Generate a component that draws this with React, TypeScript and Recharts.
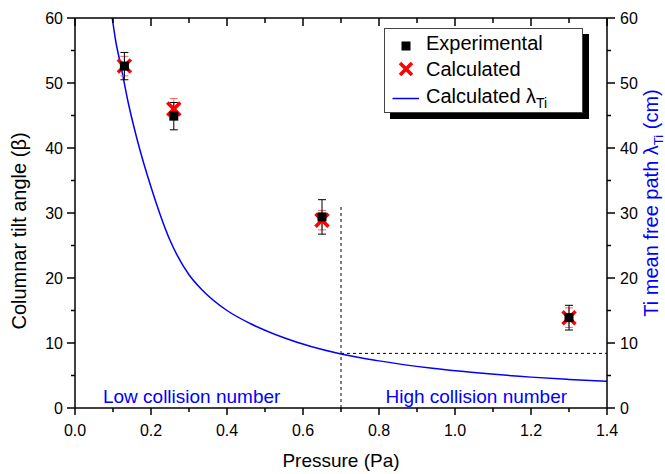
import React from 'react';
import {
  ComposedChart,
  XAxis,
  YAxis,
  Line,
  Scatter,
  ErrorBar,
  ReferenceLine,
  ReferenceDot,
  Legend,
} from 'recharts';

// ---------- data ----------
const pressure = [0.13, 0.26, 0.65, 1.3];
const experimental = [52.6, 44.9, 29.4, 13.9];
const experimentalErr = [2.1, 2.1, 2.65, 1.9];
const calculated = [52.6, 46.0, 28.9, 13.9];
const calculatedErr = [1.5, 1.6, 1.5, 1.5];

const curvePressure = [0.098, 0.107, 0.121, 0.14, 0.164, 0.2, 0.25, 0.3, 0.334, 0.4, 0.461, 0.55, 0.7, 0.8, 0.935, 1.05, 1.2, 1.3, 1.4];
const curveLambda = [60, 56.5, 52.6, 47.0, 41.2, 34.0, 25.8, 20.5, 18.2, 15.0, 13.0, 10.8, 8.3, 7.25, 6.15, 5.45, 4.75, 4.4, 4.1];

const xTicks = [0, 0.1, 0.2, 0.3, 0.4, 0.5, 0.6, 0.7, 0.8, 0.9, 1.0, 1.1, 1.2, 1.3, 1.4];
const yTicks = [0, 5, 10, 15, 20, 25, 30, 35, 40, 45, 50, 55, 60];

const boundaryPressure = 0.7;
const boundaryTop = 31.2;
const boundaryLambda = 8.4;

const lowLabel = 'Low collision number';
const highLabel = 'High collision number';
const lowLabelPos = { p: 0.307, y: 1.85 };
const highLabelPos = { p: 1.056, y: 1.85 };

// ---------- derived tables ----------
const expData = pressure.map((p, i) => ({ p, beta: experimental[i], err: experimentalErr[i] }));
const calcData = pressure.map((p, i) => ({ p, beta: calculated[i], err: calculatedErr[i] }));
const curveData = curvePressure.map((p, i) => ({ p, lam: curveLambda[i] }));

const FONT = '"Liberation Sans", Arial, Helvetica, sans-serif';
const BLUE = '#0000ff';
const RED = '#ff0000';

const isMajorX = (v: number) => Math.round(v * 10) % 2 === 0;
const isMajorY = (v: number) => Math.round(v) % 10 === 0;

const BottomTick = (props: any) => {
  const { x, y, payload } = props;
  const v = Number(payload.value);
  const major = isMajorX(v);
  return (
    <g>
      <line x1={x} y1={y} x2={x} y2={y + (major ? 7 : 4)} stroke="#000" strokeWidth={1.5} />
      {major && (
        <text x={x} y={y + 28} textAnchor="middle" fontSize={16} fontFamily={FONT} fill="#000">
          {v.toFixed(1)}
        </text>
      )}
    </g>
  );
};

const TopTick = (props: any) => {
  const { x, y, payload } = props;
  const v = Number(payload.value);
  const major = isMajorX(v);
  return <line x1={x} y1={y} x2={x} y2={y + (major ? 8 : 5)} stroke="#000" strokeWidth={1.5} />;
};

const LeftTick = (props: any) => {
  const { x, y, payload } = props;
  const v = Number(payload.value);
  const major = isMajorY(v);
  return (
    <g>
      <line x1={x} y1={y} x2={x - (major ? 8 : 4)} y2={y} stroke="#000" strokeWidth={1.5} />
      {major && (
        <text x={x - 12} y={y} dy="0.36em" textAnchor="end" fontSize={16} fontFamily={FONT} fill="#000">
          {v}
        </text>
      )}
    </g>
  );
};

const RightTick = (props: any) => {
  const { x, y, payload } = props;
  const v = Number(payload.value);
  const major = isMajorY(v);
  return (
    <g>
      <line x1={x} y1={y} x2={x + (major ? 8 : 4)} y2={y} stroke="#000" strokeWidth={1.5} />
      {major && (
        <text x={x + 13} y={y} dy="0.36em" textAnchor="start" fontSize={16} fontFamily={FONT} fill="#000">
          {v}
        </text>
      )}
    </g>
  );
};

const SquareShape = (props: any) => {
  const { cx, cy } = props;
  return <rect x={cx - 4.5} y={cy - 4.5} width={9} height={9} fill="#000" />;
};

const CrossShape = (props: any) => {
  const { cx, cy } = props;
  const s = 6.5;
  return (
    <g stroke={RED} strokeWidth={3.5} strokeLinecap="butt">
      <line x1={cx - s} y1={cy - s} x2={cx + s} y2={cy + s} />
      <line x1={cx - s} y1={cy + s} x2={cx + s} y2={cy - s} />
    </g>
  );
};

const LeftTitle = (props: any) => {
  const vb = props.viewBox || { x: 0, y: 18, width: 75, height: 390 };
  const cx = vb.x + 25.5;
  const cy = vb.y + vb.height / 2 + 18;
  return (
    <text
      x={cx}
      y={cy}
      transform={`rotate(-90, ${cx}, ${cy})`}
      textAnchor="middle"
      fontSize={20}
      fontFamily={FONT}
      fill="#000"
    >
      Columnar tilt angle (β)
    </text>
  );
};

const RightTitle = (props: any) => {
  const vb = props.viewBox || { x: 607, y: 18, width: 58, height: 390 };
  const cx = vb.x + 51;
  const cy = vb.y + vb.height / 2 - 10;
  return (
    <text
      x={cx}
      y={cy}
      transform={`rotate(-90, ${cx}, ${cy})`}
      textAnchor="middle"
      fontSize={20}
      fontFamily={FONT}
      fill={BLUE}
    >
      Ti mean free path λ
      <tspan fontSize={13} dy={5}>Ti</tspan>
      <tspan dy={-5}> (cm)</tspan>
    </text>
  );
};

const BottomTitle = (props: any) => {
  const vb = props.viewBox || { x: 75, y: 408, width: 532, height: 66 };
  return (
    <text x={vb.x + vb.width / 2} y={vb.y + 59} textAnchor="middle" fontSize={19} fontFamily={FONT} fill="#000">
      Pressure (Pa)
    </text>
  );
};

const LegendBox = () => {
  const rowText: React.CSSProperties = {
    position: 'absolute',
    left: 41,
    height: 26,
    lineHeight: '26px',
    whiteSpace: 'nowrap',
  };
  return (
    <div
      style={{
        position: 'relative',
        width: 199,
        height: 85,
        boxSizing: 'border-box',
        border: '1px solid #444',
        background: '#fff',
        boxShadow: '6px 6px 0 #000',
        fontFamily: FONT,
        fontSize: 20,
        color: '#000',
      }}
    >
      <svg width={40} height={85} style={{ position: 'absolute', left: 0, top: 0 }}>
        <rect x={16.5} y={12.5} width={9} height={9} fill="#000" />
        <g stroke={RED} strokeWidth={3.5}>
          <line x1={15} y1={34} x2={27} y2={46} />
          <line x1={15} y1={46} x2={27} y2={34} />
        </g>
        <line x1={7.5} y1={69.5} x2={34} y2={69.5} stroke={BLUE} strokeWidth={1.5} />
      </svg>
      <div style={{ ...rowText, top: 1 }}>Experimental</div>
      <div style={{ ...rowText, top: 27 }}>Calculated</div>
      <div style={{ ...rowText, top: 54 }}>
        Calculated λ
        <span style={{ fontSize: 14, position: 'relative', top: 5 }}>Ti</span>
      </div>
    </div>
  );
};

export default function App() {
  return (
    <div style={{ position: 'absolute', left: 0, top: 0, background: '#fff' }}>
      <ComposedChart width={665} height={474} margin={{ top: 8, right: 0, bottom: 0, left: 0 }}>
        <XAxis
          xAxisId={0}
          dataKey="p"
          type="number"
          domain={[0, 1.4]}
          ticks={xTicks}
          interval={0}
          allowDataOverflow
          height={66}
          tickSize={0}
          tickMargin={0}
          tick={<BottomTick />}
          axisLine={{ stroke: '#000', strokeWidth: 1.5 }}
          label={{ content: (p: any) => <BottomTitle {...p} /> }}
        />
        <XAxis
          xAxisId="top"
          dataKey="p"
          orientation="top"
          type="number"
          domain={[0, 1.4]}
          ticks={xTicks}
          interval={0}
          allowDataOverflow
          height={10}
          tickSize={0}
          tickMargin={0}
          tick={<TopTick />}
          axisLine={{ stroke: '#000', strokeWidth: 1.5 }}
        />
        <YAxis
          yAxisId="left"
          type="number"
          domain={[0, 60]}
          ticks={yTicks}
          interval={0}
          allowDataOverflow
          width={75}
          tickSize={0}
          tickMargin={0}
          tick={<LeftTick />}
          axisLine={{ stroke: '#000', strokeWidth: 1.5 }}
          label={{ content: (p: any) => <LeftTitle {...p} /> }}
        />
        <YAxis
          yAxisId="right"
          orientation="right"
          type="number"
          domain={[0, 60]}
          ticks={yTicks}
          interval={0}
          allowDataOverflow
          width={58}
          tickSize={0}
          tickMargin={0}
          tick={<RightTick />}
          axisLine={{ stroke: '#000', strokeWidth: 1.5 }}
          label={{ content: (p: any) => <RightTitle {...p} /> }}
        />
        <Legend
          layout="vertical"
          verticalAlign="middle"
          align="center"
          wrapperStyle={{ left: 384, top: 28, width: 199, height: 85 }}
          content={() => <LegendBox />}
        />
        <ReferenceLine
          yAxisId="left"
          segment={[{ x: boundaryPressure, y: 0 }, { x: boundaryPressure, y: boundaryTop }]}
          stroke="#000"
          strokeWidth={1}
          strokeDasharray="3 3"
        />
        <ReferenceLine
          yAxisId="left"
          segment={[{ x: boundaryPressure, y: boundaryLambda }, { x: 1.4, y: boundaryLambda }]}
          stroke="#000"
          strokeWidth={1}
          strokeDasharray="3 3"
        />
        <Line
          yAxisId="right"
          data={curveData}
          dataKey="lam"
          type="monotone"
          stroke={BLUE}
          strokeWidth={1.5}
          dot={false}
          activeDot={false}
          isAnimationActive={false}
          name="Calculated λTi"
        />
        <Scatter
          yAxisId="left"
          data={calcData}
          dataKey="beta"
          shape={<CrossShape />}
          isAnimationActive={false}
          name="Calculated"
        >
          <ErrorBar dataKey="err" direction="y" width={4} stroke="#ff6060" strokeWidth={1} />
        </Scatter>
        <Scatter
          yAxisId="left"
          data={expData}
          dataKey="beta"
          shape={<SquareShape />}
          isAnimationActive={false}
          name="Experimental"
        >
          <ErrorBar dataKey="err" direction="y" width={4} stroke="#000" strokeWidth={1} />
        </Scatter>
        <ReferenceDot
          yAxisId="left"
          x={lowLabelPos.p}
          y={lowLabelPos.y}
          r={0}
          fill="none"
          stroke="none"
          label={{ value: lowLabel, position: 'center', fill: BLUE, fontSize: 19, fontFamily: FONT }}
        />
        <ReferenceDot
          yAxisId="left"
          x={highLabelPos.p}
          y={highLabelPos.y}
          r={0}
          fill="none"
          stroke="none"
          label={{ value: highLabel, position: 'center', fill: BLUE, fontSize: 19, fontFamily: FONT }}
        />
      </ComposedChart>
    </div>
  );
}
